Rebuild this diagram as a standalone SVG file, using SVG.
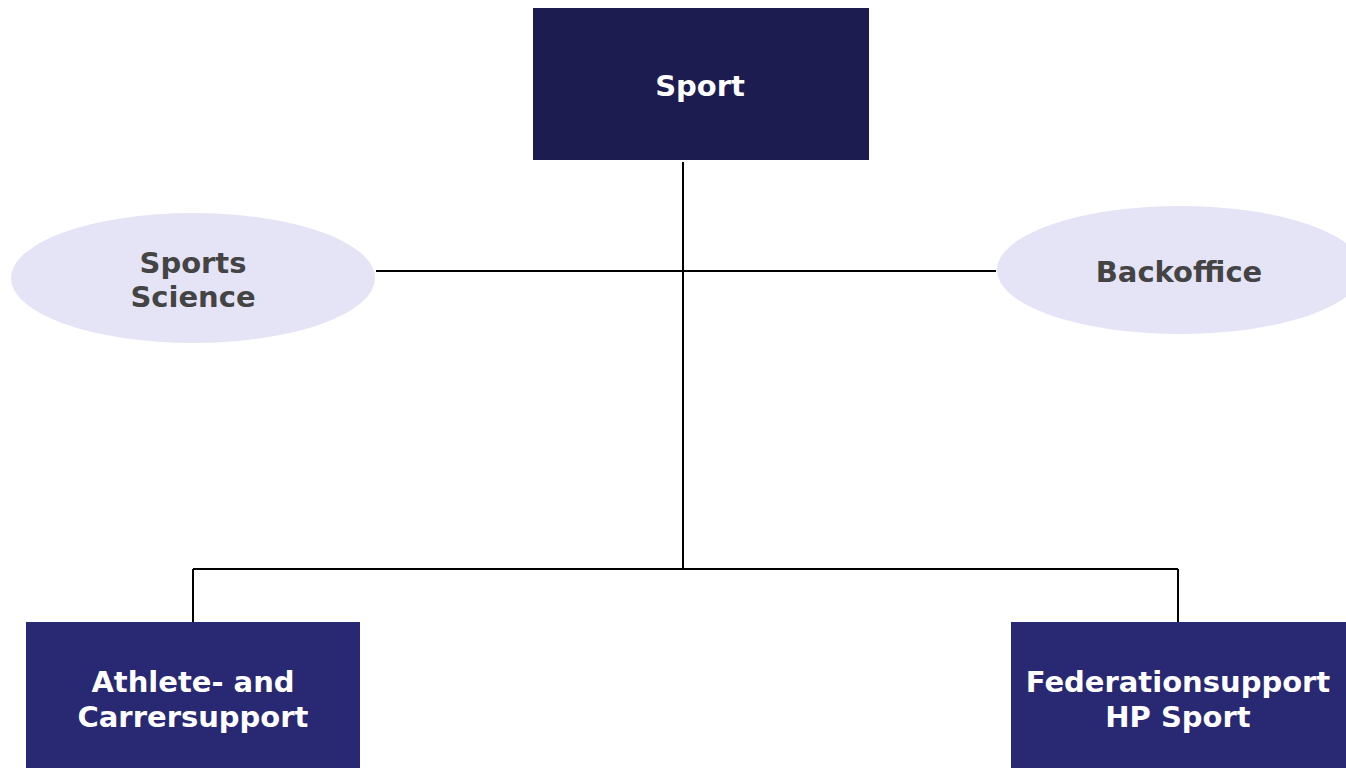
<svg xmlns="http://www.w3.org/2000/svg" width="1346" height="768" viewBox="0 0 1346 768">
<style>
.t{font-family:"DejaVu Sans","Liberation Sans",sans-serif;font-weight:bold;font-size:29px;text-anchor:middle}
.w{fill:#ffffff}
.g{fill:#444444}
.c{stroke:#000000;stroke-width:2;fill:none}
</style>
<rect width="1346" height="768" fill="#ffffff"/>
<g id="connectors">
<line class="c" x1="683" y1="162" x2="683" y2="569"/>
<line class="c" x1="376" y1="271" x2="996" y2="271"/>
<line class="c" x1="193" y1="569" x2="1178" y2="569"/>
<line class="c" x1="193" y1="569" x2="193" y2="622"/>
<line class="c" x1="1178" y1="569" x2="1178" y2="622"/>
</g>
<g id="sport">
<rect x="533" y="8" width="336" height="152" fill="#1c1c50"/>
<text class="t w" x="700" y="96">Sport</text>
</g>
<g id="sports-science">
<ellipse cx="193" cy="278" rx="182" ry="65" fill="#e5e4f6"/>
<text class="t g" x="193" y="273">Sports</text>
<text class="t g" x="193" y="307">Science</text>
</g>
<g id="backoffice">
<ellipse cx="1180" cy="270" rx="183" ry="64" fill="#e5e4f6"/>
<text class="t g" x="1179" y="282">Backoffice</text>
</g>
<g id="athlete">
<rect x="26" y="622" width="334" height="146" fill="#292872"/>
<text class="t w" x="193" y="692">Athlete- and</text>
<text class="t w" x="193" y="727">Carrersupport</text>
</g>
<g id="federation">
<rect x="1011" y="622" width="335" height="146" fill="#292872"/>
<text class="t w" x="1178" y="692">Federationsupport</text>
<text class="t w" x="1178" y="727">HP Sport</text>
</g>
</svg>
